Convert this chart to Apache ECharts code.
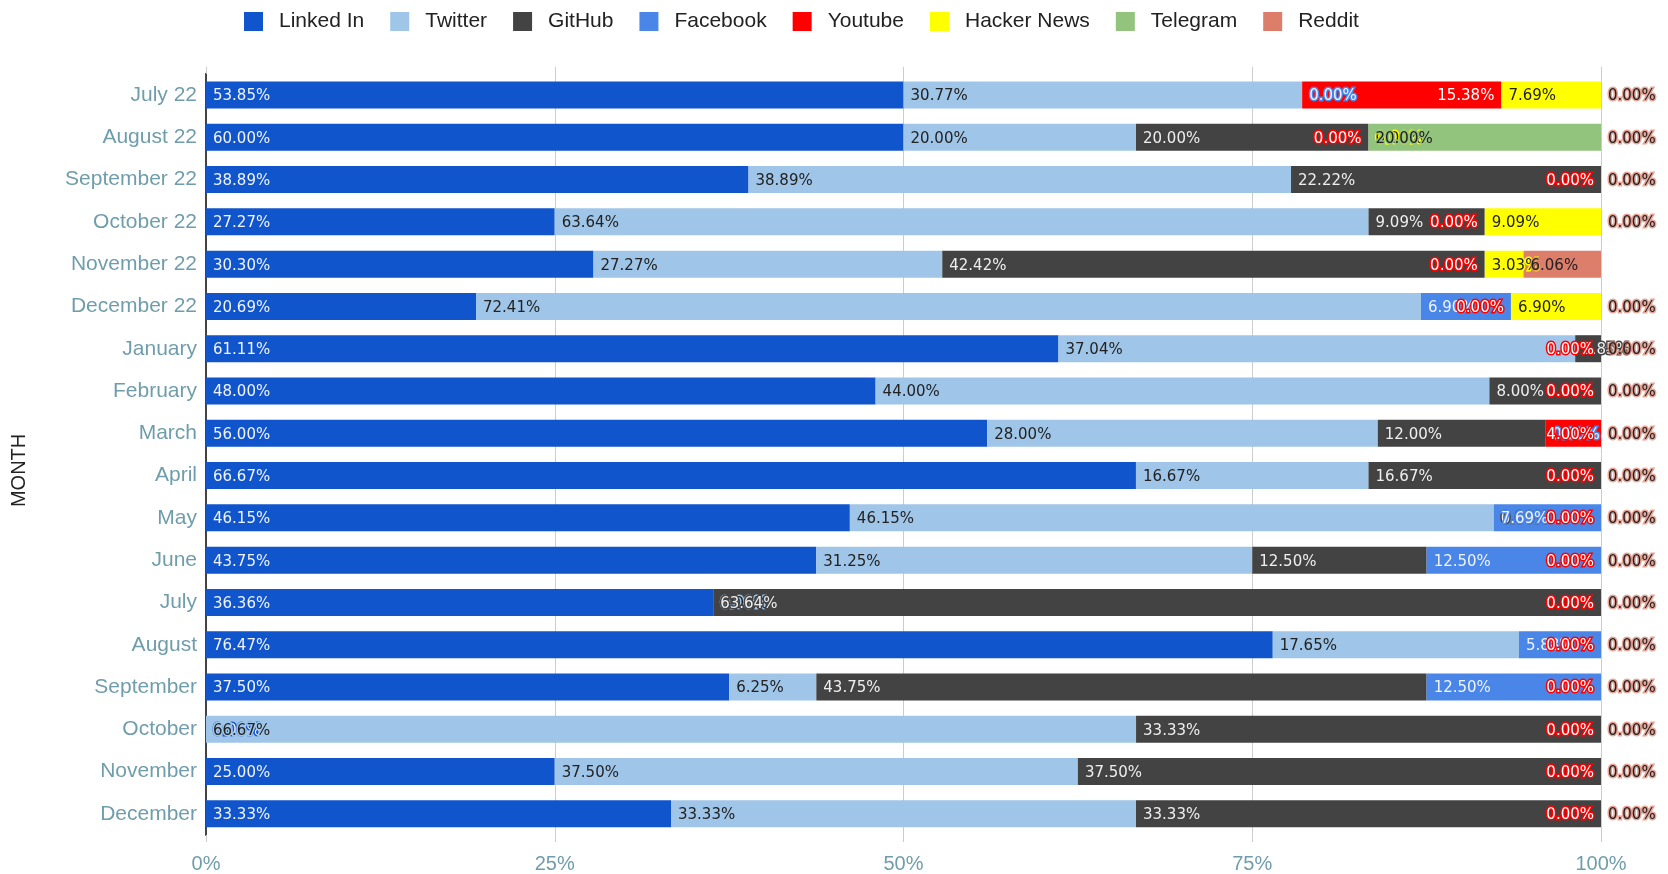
<!DOCTYPE html>
<html>
<head>
<meta charset="utf-8">
<script src="https://cdn.jsdelivr.net/npm/echarts@6/dist/echarts.min.js"></script>
<style>
  html, body { margin: 0; padding: 0; background: #fff; }
  #chart { width: 1668px; height: 874px; }
</style>
</head>
<body>
<div id="chart"></div>
<script>
// ---- data (labelled values; null = no segment) ----
const months = ['July 22', 'August 22', 'September 22', 'October 22', 'November 22', 'December 22',
  'January', 'February', 'March', 'April', 'May', 'June', 'July', 'August', 'September',
  'October', 'November', 'December'];

const seriesNames = ['Linked In', 'Twitter', 'GitHub', 'Facebook', 'Youtube', 'Hacker News', 'Telegram', 'Reddit'];

const linkedIn   = [53.85, 60.00, 38.89, 27.27, 30.30, 20.69, 61.11, 48.00, 56.00, 66.67, 46.15, 43.75, 36.36, 76.47, 37.50, 0.00, 25.00, 33.33];
const twitter    = [30.77, 20.00, 38.89, 63.64, 27.27, 72.41, 37.04, 44.00, 28.00, 16.67, 46.15, 31.25, 0.00, 17.65, 6.25, 66.67, 37.50, 33.33];
const gitHub     = [null, 20.00, 22.22, 9.09, 42.42, null, 1.85, 8.00, 12.00, 16.67, 0.00, 12.50, 63.64, null, 43.75, 33.33, 37.50, 33.33];
const facebook   = [0.00, null, null, null, null, 6.90, null, null, 0.00, null, 7.69, 12.50, null, 5.88, 12.50, null, null, null];
const youtube    = [15.38, 0.00, 0.00, 0.00, 0.00, 0.00, 0.00, 0.00, 4.00, 0.00, 0.00, 0.00, 0.00, 0.00, 0.00, 0.00, 0.00, 0.00];
const hackerNews = [7.69, 0.00, null, 9.09, 3.03, 6.90, null, null, null, null, null, null, null, null, null, null, null, null];
const telegram   = [null, 20.00, null, null, null, null, null, null, null, null, null, null, null, null, null, null, null, null];
const reddit     = [0.00, 0.00, 0.00, 0.00, 6.06, 0.00, 0.00, 0.00, 0.00, 0.00, 0.00, 0.00, 0.00, 0.00, 0.00, 0.00, 0.00, 0.00];

const xTicks = [0, 25, 50, 75, 100];

// ---- styles ----
const colors = ['#1155cc', '#9fc5e8', '#434343', '#4a86e8', '#ff0000', '#ffff00', '#93c47d', '#dd7e6b'];
const haloColors = ['#1155cc', '#9fc5e8', '#434343', '#4a86e8', '#ff0000', '#ffff00', '#93c47d', 'rgba(221,126,107,0.7)'];
const labelColors = ['#eef3ff', '#222222', '#eeeeee', '#eef3ff', '#ffffff', '#222222', '#222222', '#222222'];
const labelPos = ['insideLeft', 'insideLeft', 'insideLeft', 'insideLeft', 'insideRight', 'insideLeft', 'insideLeft', 'insideLeft'];
const axisTextColor = '#6f9dab';

const raw = [linkedIn, twitter, gitHub, facebook, youtube, hackerNews, telegram, reddit];
const totals = months.map((m, i) => raw.reduce((s, arr) => s + (arr[i] == null ? 0 : arr[i]), 0));

const series = raw.map((arr, k) => ({
  name: seriesNames[k],
  type: 'bar',
  stack: 'total',
  barWidth: 27,
  clip: false,
  itemStyle: { color: colors[k] },
  label: {
    show: true,
    position: labelPos[k],
    distance: 7,
    offset: [0, 1.5],
    fontFamily: 'DejaVu Sans',
    fontSize: 15,
    color: labelColors[k],
    textBorderColor: haloColors[k],
    textBorderWidth: 3,
    formatter: p => arr[p.dataIndex].toFixed(2) + '%'
  },
  emphasis: { disabled: true },
  data: arr.map((v, i) => v == null ? null : Math.round(v / totals[i] * 100 * 1e6) / 1e6)
}));

const chart = echarts.init(document.getElementById('chart'), null, { renderer: 'canvas' });
chart.setOption({
  animation: false,
  backgroundColor: '#ffffff',
  color: colors,
  legend: {
    left: 239,
    top: 6,
    itemWidth: 19,
    itemHeight: 19,
    itemGap: 26,
    icon: 'rect',
    textStyle: { fontFamily: 'Liberation Sans', fontSize: 21, color: '#222', padding: [0, 0, 0, 11] },
    data: seriesNames
  },
  grid: { left: 206, right: 67, top: 73.85, bottom: 38.75, containLabel: false },
  xAxis: [{
    type: 'value',
    min: xTicks[0],
    max: xTicks[xTicks.length - 1],
    interval: 25,
    axisLine: { show: false },
    axisTick: { show: true, length: 7, lineStyle: { color: '#cccccc' } },
    splitLine: { show: true, lineStyle: { color: '#cccccc', width: 1 } },
    axisLabel: { formatter: '{value}%', color: axisTextColor, fontFamily: 'Liberation Sans', fontSize: 20, margin: 19 }
  }, {
    type: 'value',
    position: 'top',
    min: xTicks[0],
    max: xTicks[xTicks.length - 1],
    interval: 25,
    axisLine: { show: false },
    axisTick: { show: true, length: 7, lineStyle: { color: '#cccccc' } },
    splitLine: { show: false },
    axisLabel: { show: false }
  }],
  yAxis: {
    type: 'category',
    inverse: true,
    data: months,
    name: 'MONTH',
    nameLocation: 'middle',
    nameRotate: 90,
    nameGap: 177,
    nameTextStyle: { fontFamily: 'Liberation Sans', fontSize: 20, color: '#222', padding: [0, 32, 0, 0] },
    axisLine: { show: true, lineStyle: { color: '#444', width: 2 } },
    axisTick: { show: false },
    axisLabel: { color: axisTextColor, fontFamily: 'Liberation Sans', fontSize: 21, margin: 9 }
  },
  series: series
});
</script>
</body>
</html>
